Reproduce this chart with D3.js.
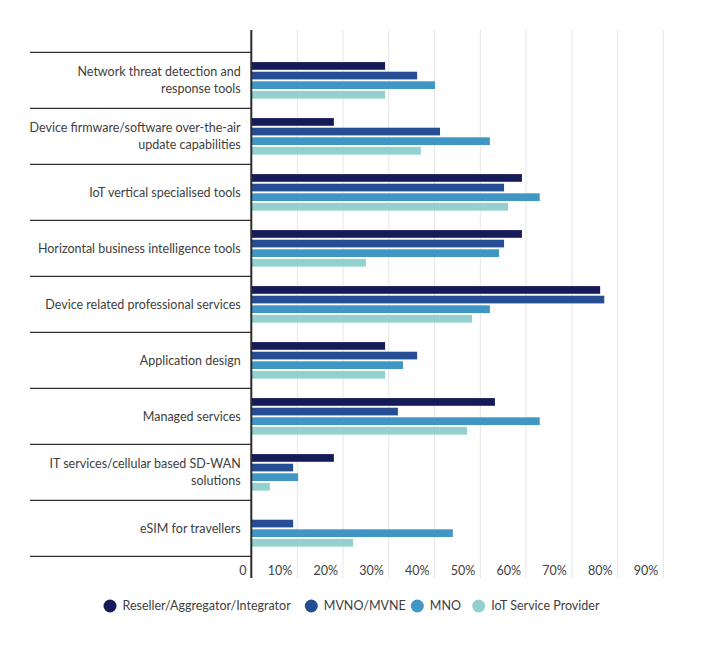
<!DOCTYPE html>
<html>
<head>
<meta charset="utf-8">
<script src="https://cdn.jsdelivr.net/npm/d3@7"></script>
<style>
  html, body { margin: 0; padding: 0; background: #fff; }
  svg { display: block; font-family: Lato, "Open Sans", sans-serif; }
</style>
</head>
<body>
<svg id="chart" width="704" height="645"></svg>
<script>
const categories = [
  "Network threat detection and|response tools",
  "Device firmware/software over-the-air|update capabilities",
  "IoT vertical specialised tools",
  "Horizontal business intelligence tools",
  "Device related professional services",
  "Application design",
  "Managed services",
  "IT services/cellular based SD-WAN|solutions",
  "eSIM for travellers"
];
const seriesNames = ["Reseller/Aggregator/Integrator", "MVNO/MVNE", "MNO", "IoT Service Provider"];
const seriesColors = ["#151b58", "#264e94", "#4097c4", "#93d0d0"];
const resellerValues = [29.2, 18.0, 59.1, 59.1, 76.2, 29.2, 53.2, 18.0, 0];
const mvnoValues     = [36.2, 41.2, 55.2, 55.2, 77.1, 36.2, 32.0, 9.1, 9.1];
const mnoValues      = [40.1, 52.1, 63.0, 54.1, 52.1, 33.1, 63.0, 10.2, 44.0];
const iotValues      = [29.2, 37.0, 56.1, 25.0, 48.2, 29.2, 47.1, 4.0, 22.2];
const tickValues = [0, 10, 20, 30, 40, 50, 60, 70, 80, 90];
const tickLabels = ["0", "10%", "20%", "30%", "40%", "50%", "60%", "70%", "80%", "90%"];

const seriesValues = [resellerValues, mvnoValues, mnoValues, iotValues];

const svg = d3.select("#chart");
const x = d3.scaleLinear().domain([0, 90]).range([251.5, 663.3]);
const y = d3.scaleBand().domain(categories).range([52.3, 556.3]).padding(0);
const ySub = d3.scaleBand().domain(seriesNames).range([9.8, 46.3]).paddingInner(0.2).paddingOuter(0);

// gridlines
svg.append("g").selectAll("line").data(tickValues.slice(1)).join("line")
  .attr("x1", d => x(d)).attr("x2", d => x(d))
  .attr("y1", 30).attr("y2", 578)
  .attr("stroke", "#e6e6e6").attr("stroke-width", 1);

// category separators
const bounds = categories.map(c => y(c)).concat([y(categories[categories.length - 1]) + y.bandwidth()]);
svg.append("g").selectAll("line").data(bounds).join("line")
  .attr("x1", 30).attr("x2", 251)
  .attr("y1", d => d).attr("y2", d => d)
  .attr("stroke", "#333").attr("stroke-width", 1.2);

// bars
const groups = svg.append("g").selectAll("g").data(categories).join("g")
  .attr("transform", c => `translate(0,${y(c)})`);
groups.selectAll("rect")
  .data((c, i) => seriesNames.map((s, j) => ({ s, j, v: seriesValues[j][i] })))
  .join("rect")
  .attr("x", x(0))
  .attr("y", d => ySub(d.s))
  .attr("width", d => Math.max(0, x(d.v) - x(0)))
  .attr("height", ySub.bandwidth())
  .attr("fill", d => seriesColors[d.j]);

// axis line
svg.append("line").attr("x1", 251.3).attr("x2", 251.3).attr("y1", 30).attr("y2", 578)
  .attr("stroke", "#2b2b2b").attr("stroke-width", 2);

// category labels
const lh = 16.4;
svg.append("g").selectAll("text").data(categories).join("text")
  .attr("text-anchor", "end")
  .attr("font-size", 12.5)
  .attr("fill", "#404040")
  .each(function (c) {
    const lines = c.split("|");
    const cy = y(c) + y.bandwidth() / 2;
    const t = d3.select(this);
    lines.forEach((ln, k) => {
      t.append("tspan")
        .attr("x", 240.7)
        .attr("y", cy + (k - (lines.length - 1) / 2) * lh)
        .attr("dy", "0.35em")
        .text(ln);
    });
  });

// tick labels
svg.append("g").selectAll("text").data(tickValues).join("text")
  .attr("x", d => x(d) - 5)
  .attr("y", 571)
  .attr("dy", "0.35em")
  .attr("text-anchor", "end")
  .attr("font-size", 12.5)
  .attr("fill", "#404040")
  .text((d, i) => tickLabels[i]);

// legend
const legendX = [110, 311.3, 417.3, 478.7];
const lg = svg.append("g").selectAll("g").data(seriesNames).join("g")
  .attr("transform", (d, i) => `translate(${legendX[i]},606)`);
lg.append("circle").attr("r", 6.5).attr("fill", (d, i) => seriesColors[i]);
lg.append("text").attr("x", 12.5).attr("dy", "0.35em")
  .attr("font-size", 12.5).attr("fill", "#404040").text(d => d);
</script>
</body>
</html>
